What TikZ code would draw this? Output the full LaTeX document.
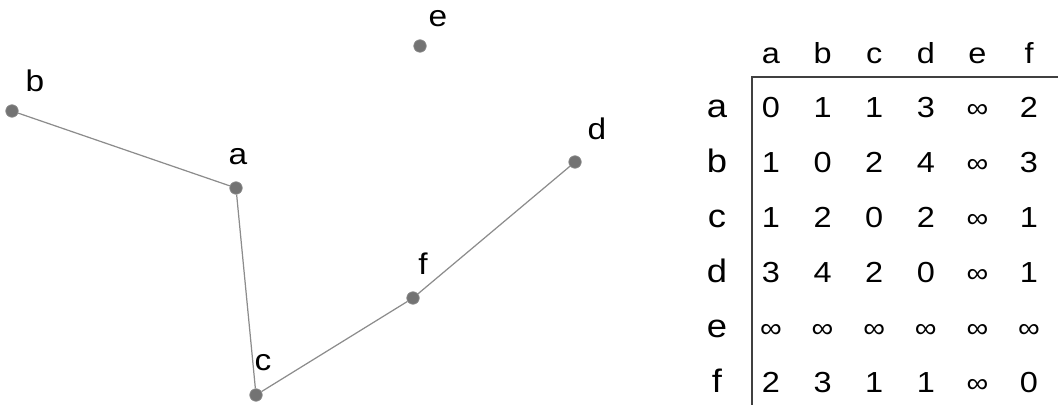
\documentclass[tikz,border=0pt]{standalone}
\usepackage{fontspec}
\setmainfont{Liberation Sans}[FakeStretch=1.12]
\newcommand{\infy}{{\fontsize{15.5}{18}\selectfont ∞}}
\begin{document}
\begin{tikzpicture}[
  x=0.02cm,y=-0.02cm,
  vertex/.style={circle,fill=black!55,draw=black!45,line width=.4pt,inner sep=0pt,minimum size=0.25cm},
  edge/.style={black!45,line width=.7pt},
  lbl/.style={inner sep=0pt,anchor=base,font=\fontsize{17}{20}\selectfont},
  cell/.style={inner sep=0pt,anchor=base,font=\fontsize{16.5}{20}\selectfont},
  rowhead/.style={cell,font=\fontsize{18.5}{22}\selectfont}
]
  \useasboundingbox (0,0) rectangle (1058,405);
  % graph
  \node[vertex] (b) at (12,111) {};
  \node[vertex] (a) at (236,188) {};
  \node[vertex] (e) at (420,46) {};
  \node[vertex] (d) at (575,162) {};
  \node[vertex] (f) at (413,298) {};
  \node[vertex] (c) at (256,395) {};
  \node[lbl] (lb) at (35,92) {b};
  \node[lbl] (la) at (238,165) {a};
  \node[lbl] (le) at (438,27) {e};
  \node[lbl] (ld) at (597,140) {d};
  \node[lbl] (lf) at (423,275) {f};
  \node[lbl] (lc) at (263,370) {c};
  \draw[edge] (b)--(a);
  \draw[edge] (a)--(c);
  \draw[edge] (c)--(f);
  \draw[edge] (f)--(d);

  % distance table
  \foreach \n [count=\i from 0] in {a,b,c,d,e,f}{
    \node[cell] (h\n) at (771+51.6*\i,64) {\n};
    \node[rowhead] (r\n) at (717,118+54.8*\i) {\n};
  }
  \foreach \row/\vals [count=\j from 0] in {a/{0,1,1,3,\infy,2},b/{1,0,2,4,\infy,3},
      c/{1,2,0,2,\infy,1},d/{3,4,2,0,\infy,1},e/{\infy,\infy,\infy,\infy,\infy,\infy},
      f/{2,3,1,1,\infy,0}}{
    \foreach \v [count=\i from 0] in \vals
      \node[cell] (m\row\i) at (771+51.6*\i,118+54.8*\j) {\v};
  }
  \coordinate (corner) at (752,77);
  \coordinate (right) at (1058,77);
  \coordinate (bottom) at (752,405);
  \draw[black!75,line width=.9pt] (right)--(corner)--(bottom);
\end{tikzpicture}
\end{document}
